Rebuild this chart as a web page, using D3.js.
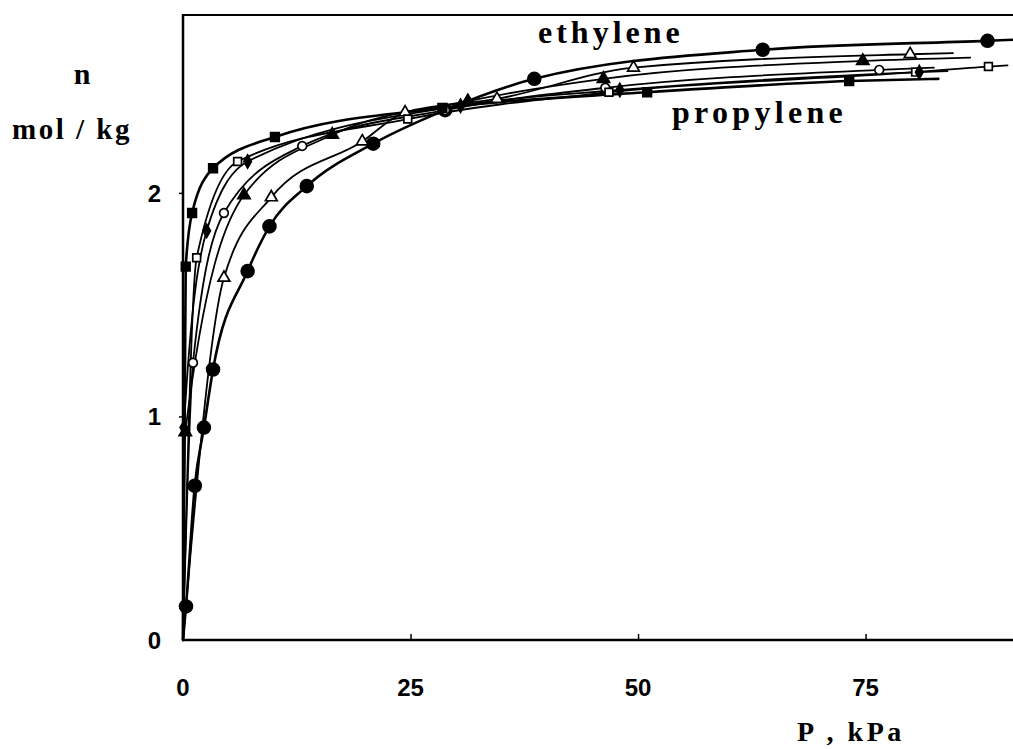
<!DOCTYPE html>
<html>
<head>
<meta charset="utf-8">
<script src="https://cdn.jsdelivr.net/npm/d3@7"></script>
<style>
  html, body { margin: 0; padding: 0; background: #fff; }
  svg { display: block; }
</style>
</head>
<body>
<svg id="chart" width="1013" height="749"></svg>
<script>
// ---- data (P in kPa, n in mol/kg) ----
const xTicks = [0, 25, 50, 75];
const yTicks = [0, 1, 2];

// ethylene, large filled circles
const ethCircleFilled = [[0.33,0.15],[1.3,0.69],[2.3,0.95],[3.3,1.21],[7.1,1.65],[9.5,1.85],[13.6,2.03],[20.9,2.22],[28.8,2.37],[38.6,2.51],[63.7,2.64],[88.4,2.68]];
const ethCircleFilledEnd = [91.5, 2.685];
// open triangles
const triOpen = [[4.5,1.62],[9.7,1.98],[19.7,2.23],[24.4,2.36],[34.5,2.42],[49.5,2.56],[79.9,2.62]];
const triOpenEnd = [84.6, 2.625];
// filled triangles
const triFilled = [[0.25,0.93],[6.7,1.99],[16.4,2.26],[31.3,2.41],[46.2,2.51],[74.7,2.59]];
const triFilledEnd = [86.5, 2.605];
// open circles
const circleOpen = [[1.1,1.24],[4.5,1.91],[13.1,2.21],[28.8,2.37],[46.4,2.47],[76.5,2.55]];
const circleOpenEnd = [82.5, 2.56];
// open squares
const squareOpen = [[1.5,1.71],[6.0,2.14],[24.7,2.33],[46.8,2.45],[80.5,2.54],[88.5,2.565]];
const squareOpenEnd = [90.6, 2.57];
// small filled diamonds
const diamondFilled = [[0.1,0.95],[2.6,1.83],[7.1,2.14],[30.5,2.39],[48.0,2.46],[80.9,2.54]];
const diamondFilledEnd = [84.0, 2.545];
// filled squares
const squareFilled = [[0.3,1.67],[1.0,1.91],[3.3,2.11],[10.1,2.25],[28.5,2.38],[51.0,2.45],[73.2,2.50]];
const squareFilledEnd = [83.0, 2.51];

const series = [
  { pts: ethCircleFilled, end: ethCircleFilledEnd, sym: d3.symbolCircle, size: 130, fill: "#000", w: 2.6 },
  { pts: triOpen, end: triOpenEnd, sym: d3.symbolTriangle, size: 60, fill: "#fff", w: 1.8 },
  { pts: triFilled, end: triFilledEnd, sym: d3.symbolTriangle, size: 65, fill: "#000", w: 1.8 },
  { pts: circleOpen, end: circleOpenEnd, sym: d3.symbolCircle, size: 60, fill: "#fff", w: 1.8 },
  { pts: squareOpen, end: squareOpenEnd, sym: d3.symbolSquare, size: 60, fill: "#fff", w: 1.8 },
  { pts: diamondFilled, end: diamondFilledEnd, sym: d3.symbolDiamond, size: 50, fill: "#000", w: 1.8 },
  { pts: squareFilled, end: squareFilledEnd, sym: d3.symbolSquare, size: 75, fill: "#000", w: 2.6 }
];

// ---- drawing ----
const svg = d3.select("#chart");
const x = d3.scaleLinear().domain([0, 91.2]).range([183, 1013]);
const y = d3.scaleLinear().domain([0, 2.8]).range([640, 14]);

const line = d3.line().x(d => x(d[0])).y(d => y(d[1])).curve(d3.curveMonotoneX);

const g = svg.append("g");
series.forEach(s => {
  const lp = [[0, 0]].concat(s.pts, [s.end]);
  g.append("path").attr("d", line(lp)).attr("fill", "none")
    .attr("stroke", "#000").attr("stroke-width", s.w).attr("stroke-linecap", "round");
});
series.forEach(s => {
  g.selectAll(null).data(s.pts).enter().append("path")
    .attr("transform", d => `translate(${x(d[0])},${y(d[1])})`)
    .attr("d", d3.symbol().type(s.sym).size(s.size))
    .attr("fill", s.fill).attr("stroke", "#000").attr("stroke-width", 1.7);
});

// frame: left axis, bottom axis, top line
svg.append("line").attr("x1", x(0)).attr("x2", x(0)).attr("y1", 14).attr("y2", y(0))
  .attr("stroke", "#000").attr("stroke-width", 2.5);
svg.append("line").attr("x1", x(0) - 1).attr("x2", 1013).attr("y1", y(0)).attr("y2", y(0))
  .attr("stroke", "#000").attr("stroke-width", 2.5);
svg.append("line").attr("x1", x(0) - 1).attr("x2", 1013).attr("y1", 15).attr("y2", 15)
  .attr("stroke", "#000").attr("stroke-width", 2.2);

// x ticks (inward)
const xAxis = d3.axisTop(x).tickValues(xTicks.filter(v => v > 0)).tickSize(6).tickFormat("");
svg.append("g").attr("transform", `translate(0,${y(0)})`).call(xAxis)
  .call(a => a.select(".domain").remove())
  .call(a => a.selectAll("line").attr("stroke-width", 1.5));
// y ticks (outward small)
const yAxis = d3.axisLeft(y).tickValues(yTicks.filter(v => v > 0)).tickSize(4).tickFormat("");
svg.append("g").attr("transform", `translate(${x(0)},0)`).call(yAxis)
  .call(a => a.select(".domain").remove())
  .call(a => a.selectAll("line").attr("stroke-width", 1.5));

// tick labels
const sans = "'Liberation Sans', Arial, sans-serif";
svg.append("g").selectAll("text").data(xTicks).enter().append("text")
  .attr("x", d => x(d)).attr("y", 696).attr("text-anchor", "middle")
  .attr("font-family", sans).attr("font-weight", "bold").attr("font-size", 24)
  .text(d => d);
svg.append("g").selectAll("text").data(yTicks).enter().append("text")
  .attr("x", 161).attr("y", d => y(d) + 9).attr("text-anchor", "end")
  .attr("font-family", sans).attr("font-weight", "bold").attr("font-size", 24)
  .text(d => d);

// labels
const serif = "'Liberation Serif', 'Times New Roman', serif";
function label(t, xx, yy, size, ls, anchor) {
  svg.append("text").attr("x", xx).attr("y", yy).attr("text-anchor", anchor || "start")
    .attr("font-family", serif).attr("font-weight", "bold").attr("font-size", size)
    .attr("letter-spacing", ls).text(t);
}
label("n", 82, 84, 30, 0, "middle");
label("mol / kg", 12, 139, 29, 2.5, "start");
label("ethylene", 538, 43, 32, 4, "start");
label("propylene", 672, 123, 32, 4.3, "start");
label("P ,  kPa", 797, 741, 28, 3.5, "start");
</script>
</body>
</html>
